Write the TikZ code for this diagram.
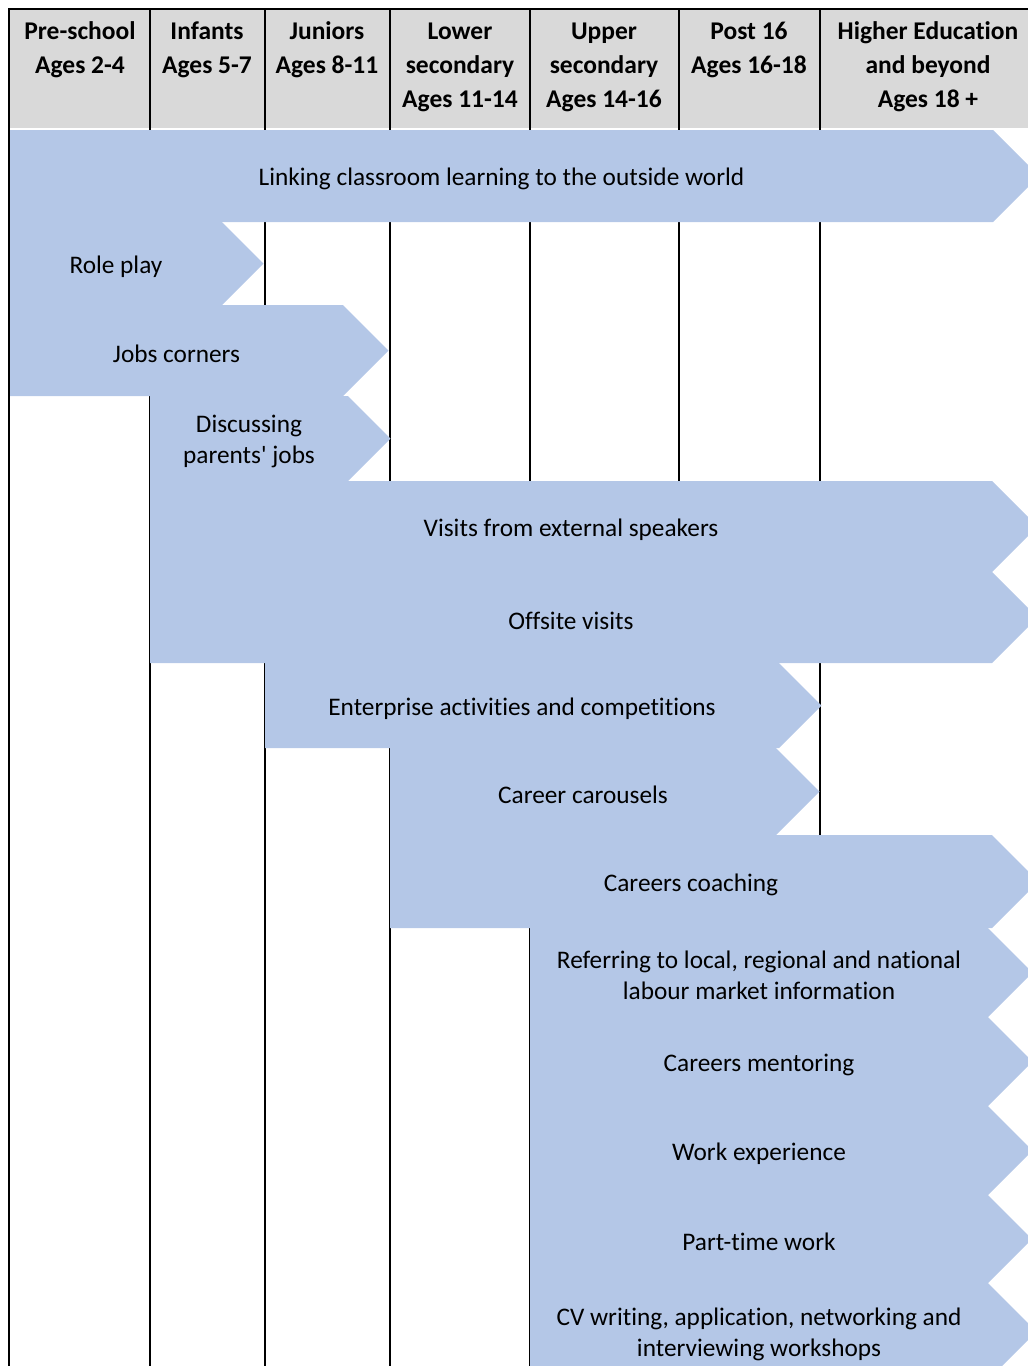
\documentclass[tikz,border=0pt]{standalone}
\usepackage{fontspec}
\setmainfont[Ligatures={NoCommon}]{Carlito}
\definecolor{barblue}{HTML}{B4C7E7}
\definecolor{headgray}{HTML}{D9D9D9}
\newcommand\chevron[6]{%
  \pgfmathsetmacro\cymid{(#3+#5)/2}%
  \pgfmathsetmacro\ctipx{#4+(#5-#3)/2}%
  \pgfmathsetmacro\cxmid{(#2+#4)/2}%
  \fill[barblue] (#2,#3) -- (#4,#3) -- (\ctipx,\cymid) -- (#4,#5) -- (#2,#5) -- cycle;
  \node[bartext] (#1) at (\cxmid,\cymid) {#6};
}
\begin{document}
\begin{tikzpicture}[x=1pt,y=-1pt,
  bartext/.style={font=\fontsize{25.3}{31}\selectfont, align=center, text=black, inner sep=0pt, yshift=-3pt},
  headtext/.style={font=\fontsize{25.5}{34}\selectfont\bfseries, align=center, anchor=base, inner sep=0pt},
  colline/.style={line width=2pt, black}]
\useasboundingbox (0,0) rectangle (1028,1366);
\begin{scope}
\clip (0,0) rectangle (1028,1366);
\fill[headgray] (10,9) rectangle (1040,128);
\draw[colline] (8,9) -- (1040,9);
\foreach \x in {150,265,390,530,679,820} \draw[colline] (\x,9) -- (\x,1366);
\node[headtext] (h1) at (80,73) {Pre-school\\Ages 2-4};
\node[headtext] (h2) at (207,73) {Infants\\Ages 5-7};
\node[headtext] (h3) at (327,73) {Juniors\\Ages 8-11};
\node[headtext] (h4) at (460,107) {Lower\\secondary\\Ages 11-14};
\node[headtext] (h5) at (604,107) {Upper\\secondary\\Ages 14-16};
\node[headtext] (h6) at (749,73) {Post 16\\Ages 16-18};
\node[headtext] (h7) at (928,107) {Higher Education\\and beyond\\Ages 18 +};
\chevron{link}{10}{130}{993}{222}{Linking classroom learning to the outside world}
\chevron{role}{10}{222}{222}{305}{Role play}
\chevron{jobs}{10}{305}{343}{396}{Jobs corners}
\chevron{parents}{150}{396}{348}{481}{Discussing\\parents\textquotesingle\ jobs}
\chevron{visits}{150}{481}{992}{572}{Visits from external speakers}
\chevron{offsite}{150}{572}{992}{663}{Offsite visits}
\chevron{enterprise}{265}{663}{779}{748}{Enterprise activities and competitions}
\chevron{carousel}{390}{748}{776}{835}{Career carousels}
\chevron{coaching}{390}{835}{992}{928}{Careers coaching}
\chevron{lmi}{530}{928}{988}{1017}{Referring to local, regional and national\\labour market information}
\chevron{mentor}{530}{1017}{988}{1106}{Careers mentoring}
\chevron{workexp}{530}{1106}{988}{1195}{Work experience}
\chevron{parttime}{530}{1195}{988}{1283}{Part-time work}
\chevron{cv}{530}{1283}{988}{1380}{CV writing, application, networking and\\interviewing workshops}
\draw[line width=2.5pt] (9,8) -- (9,1366);
\end{scope}
\end{tikzpicture}
\end{document}
